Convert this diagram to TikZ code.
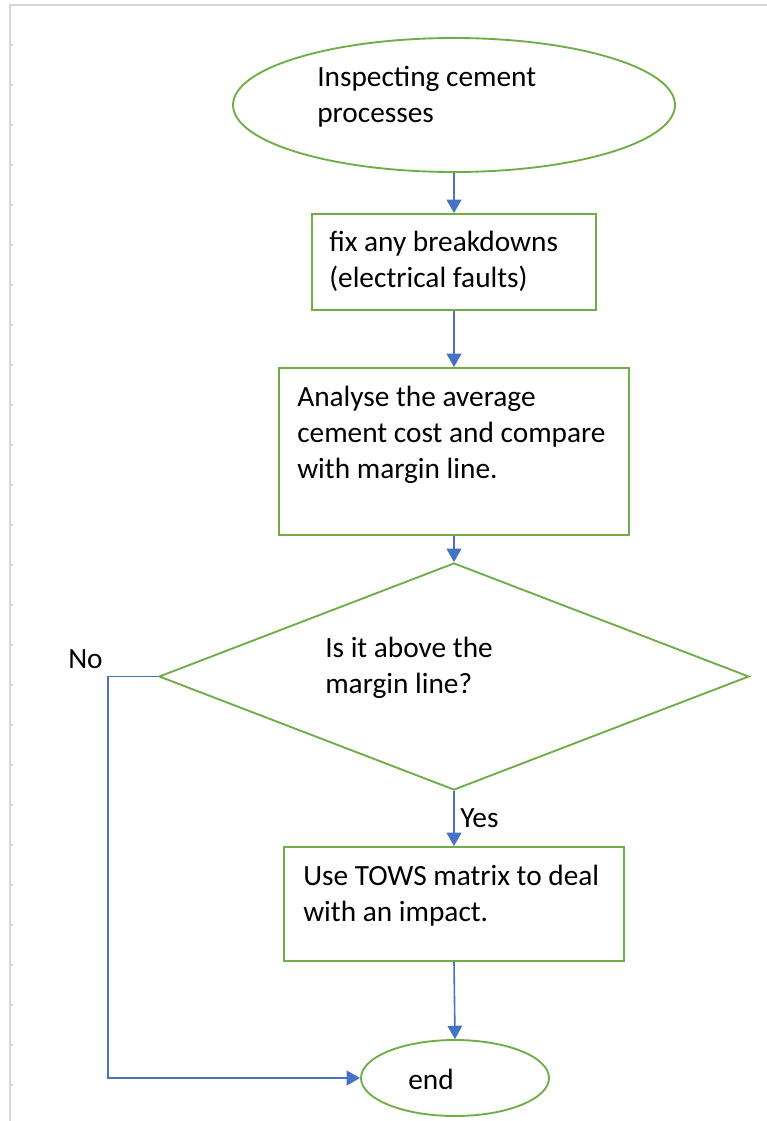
\documentclass[tikz,border=0pt]{standalone}
\usepackage{fontspec}
\setmainfont{Carlito}
\usetikzlibrary{shapes.geometric,arrows.meta}
\definecolor{flowgreen}{HTML}{70AD47}
\definecolor{flowblue}{HTML}{4472C4}
\definecolor{rulegray}{HTML}{D6D6D6}

\begin{document}
\begin{tikzpicture}[x=0.75pt,y=-0.75pt,
  greenline/.style={draw=flowgreen, line width=1.4pt},
  oval/.style={greenline, ellipse, inner sep=0},
  box/.style={greenline, rectangle, inner sep=0},
  decision/.style={greenline, diamond, inner sep=0},
  txt/.style={anchor=base west, inner sep=0, align=left, font=\fontsize{22}{27}\selectfont},
  link/.style={draw=flowblue, line width=1.2pt, -{Triangle[width=11pt,length=10pt]}},
  rulerline/.style={draw=rulegray, line width=1.5pt}]
\useasboundingbox[fill=white] (0,0) rectangle (767,1121);
% page edge with ruler ticks
\draw[rulerline] (767,5) -- (10,5) -- (10,1121);
\foreach \y in {45,85,...,1085}
  \draw[rulerline, line width=0.8pt] (10,\y) -- (13,\y);
% shapes
\node[oval, minimum width=331.5pt, minimum height=100.5pt] (start) at (454,105) {};
\node[box, minimum width=213pt, minimum height=72pt] (fix) at (454,262) {};
\node[box, minimum width=262.5pt, minimum height=125.25pt] (analyse) at (454,451.5) {};
\node[decision, minimum width=442.5pt, minimum height=170.25pt] (check) at (454,676.5) {};
\node[box, minimum width=255pt, minimum height=85.5pt] (tows) at (454,904) {};
\node[oval, minimum width=141pt, minimum height=57pt] (stop) at (455,1078) {};
\coordinate (nocorner) at (108,1078);
% texts (base = baseline of the last line)
\node[txt] (startlbl) at (317,122) {Inspecting cement\\processes};
\node[txt] (fixlbl) at (329,287) {fix any breakdowns\\(electrical faults)};
\node[txt] (analyselbl) at (297,478) {Analyse the average\\cement cost and compare\\with margin line.};
\node[txt] (checklbl) at (325,693) {Is it above the\\margin line?};
\node[txt] (towslbl) at (303,921) {Use TOWS matrix to deal\\with an impact.};
\node[txt] (stoplbl) at (408,1089) {end};
\node[txt] (nolbl) at (68,668) {No};
\node[txt] (yeslbl) at (460,827) {Yes};
% connectors
\draw[link] (start.south) -- (fix.north);
\draw[link] (fix.south) -- (analyse.north);
\draw[link] (analyse.south) -- (check.north);
\draw[link] (check.south) -- (tows.north);
\draw[link] (tows.south) -- (stop.north);
\draw[link] (check.west) -| (nocorner) -- (stop.west);
\end{tikzpicture}
\end{document}
